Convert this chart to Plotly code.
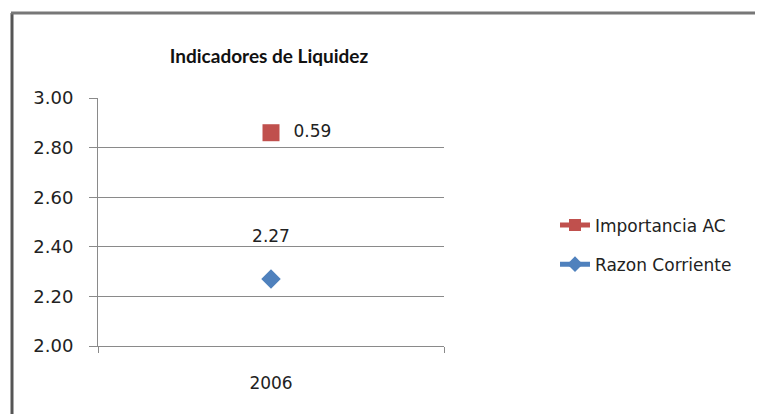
import plotly.graph_objects as go

years = ["2006"]
razon_corriente = [2.27]
importancia_ac = [0.59]

series_names = ["Importancia AC", "Razon Corriente"]
red = "#C0504D"
blue = "#4F81BD"
font = "DejaVu Sans"

# stacked line chart: the upper series sits on top of the lower one
stacked_top = [r + i for r, i in zip(razon_corriente, importancia_ac)]

fig = go.Figure()
fig.add_trace(
    go.Scatter(
        x=years,
        y=razon_corriente,
        name=series_names[1],
        legendgroup="b",
        mode="lines+markers+text",
        line=dict(color=blue, width=3),
        marker=dict(symbol="diamond", size=15, color=blue),
        text=[f"{v:.2f}<br> " for v in razon_corriente],
        textposition="top center",
        textfont=dict(family=font, size=17, color="#222"),
        legendrank=2,
    )
)
fig.add_trace(
    go.Scatter(
        x=years,
        y=stacked_top,
        name=series_names[0],
        legendgroup="a",
        mode="lines+markers+text",
        line=dict(color=red, width=3),
        marker=dict(symbol="square", size=17, color=red),
        text=["  " + f"{v:.2f}" for v in importancia_ac],
        textposition="middle right",
        textfont=dict(family=font, size=17, color="#222"),
        legendrank=1,
    )
)

fig.update_xaxes(
    type="category",
    range=[-0.5, 0.5],
    showline=True,
    linecolor="#8a8a8a",
    ticks="outside",
    tickson="boundaries",
    ticklen=6,
    tickcolor="#8a8a8a",
    ticklabelstandoff=22,
    tickfont=dict(family=font, size=17, color="#222"),
    showgrid=False,
)
fig.update_yaxes(
    range=[2, 3],
    dtick=0.2,
    tickformat=".2f",
    showline=True,
    linecolor="#8a8a8a",
    ticks="outside",
    ticklen=8,
    tickcolor="#8a8a8a",
    ticklabelstandoff=12,
    gridcolor="#8a8a8a",
    gridwidth=1,
    zeroline=False,
    tickfont=dict(family=font, size=18, color="#222"),
)

fig.update_layout(
    width=763,
    height=414,
    paper_bgcolor="white",
    plot_bgcolor="white",
    margin=dict(l=90, r=327, t=90, b=76),
    title=dict(
        text="Indicadores de Liquidez",
        x=261 / 763,
        xanchor="center",
        y=1 - 48 / 414,
        yanchor="middle",
        font=dict(family="Lato", size=19, color="#111", weight="bold"),
    ),
    legend=dict(
        xref="container",
        yref="container",
        x=547 / 763,
        y=1 - 237 / 414,
        xanchor="left",
        yanchor="middle",
        font=dict(family=font, size=17, color="#222"),
        tracegroupgap=14,
        itemsizing="constant",
    ),
    shapes=[
        dict(type="line", xref="paper", yref="paper",
             x0=-86 / 346, x1=-86 / 346, y0=333 / 248, y1=-90 / 248,
             line=dict(color="#555", width=3)),
        dict(type="line", xref="paper", yref="paper",
             x0=-87 / 346, x1=720 / 346, y0=333 / 248, y1=333 / 248,
             line=dict(color="#777", width=3)),
    ],
)

fig.write_html("out.html")
